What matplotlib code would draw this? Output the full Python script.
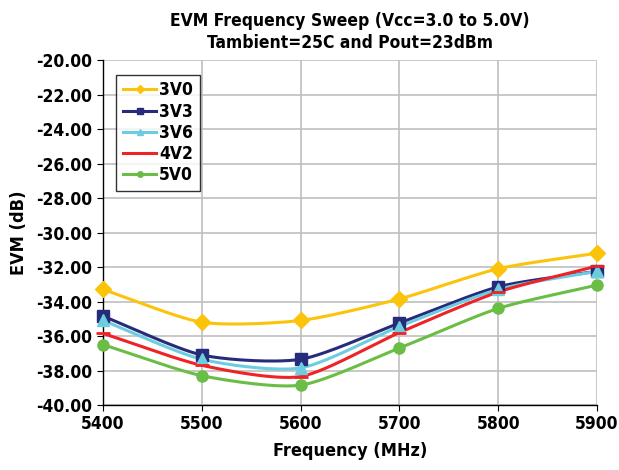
import numpy as np
import matplotlib.pyplot as plt

plt.rcParams['font.family'] = ['DejaVu Sans']
plt.rcParams['font.stretch'] = 'condensed'
plt.rcParams['font.weight'] = 'bold'

# data
freq = [5400, 5500, 5600, 5700, 5800, 5900]
evm_3v0 = [-33.3, -35.2, -35.1, -33.85, -32.1, -31.2]
evm_3v3 = [-34.85, -37.1, -37.35, -35.25, -33.15, -32.25]
evm_3v6 = [-35.1, -37.35, -37.85, -35.45, -33.3, -32.25]
evm_4v2 = [-35.85, -37.7, -38.35, -35.8, -33.45, -31.95]
evm_5v0 = [-36.5, -38.3, -38.85, -36.7, -34.4, -33.05]

labels = ['3V0', '3V3', '3V6', '4V2', '5V0']
colors = ['#FCC30B', '#262C7A', '#6DCDE0', '#EE2326', '#6ABD45']
markers = ['D', 's', '^', '_', 'o']
msizes = [8, 8, 8, 10, 8]


def smooth(x, y, n=30, k=0.12):
    # Excel-style smoothed line (bezier segments through the points)
    x = np.asarray(x, float)
    y = np.asarray(y, float)
    px = np.concatenate([[2 * x[0] - x[1]], x, [2 * x[-1] - x[-2]]])
    py = np.concatenate([[2 * y[0] - y[1]], y, [2 * y[-1] - y[-2]]])
    xs, ys = [], []
    t = np.linspace(0, 1, n)
    for i in range(1, len(px) - 2):
        p0 = np.array([px[i], py[i]])
        p3 = np.array([px[i + 1], py[i + 1]])
        p1 = p0 + (np.array([px[i + 1], py[i + 1]]) - np.array([px[i - 1], py[i - 1]])) * k
        p2 = p3 - (np.array([px[i + 2], py[i + 2]]) - np.array([px[i], py[i]])) * k
        b = ((1 - t) ** 3)[:, None] * p0 + (3 * (1 - t) ** 2 * t)[:, None] * p1 \
            + (3 * (1 - t) * t ** 2)[:, None] * p2 + (t ** 3)[:, None] * p3
        xs.extend(b[:, 0])
        ys.extend(b[:, 1])
    return xs, ys


fig = plt.figure(figsize=(6.19, 4.70), dpi=100)
ax = fig.add_axes([0.1664, 0.1383, 0.7981, 0.734])

series = [evm_3v0, evm_3v3, evm_3v6, evm_4v2, evm_5v0]
for vals, lab, c, m, ms in zip(series, labels, colors, markers, msizes):
    sx, sy = smooth(freq, vals)
    ax.plot(sx, sy, color=c, lw=2.2, zorder=3)
    ax.plot(freq, vals, linestyle='none', marker=m, color=c, ms=ms,
            mew=2 if m == '_' else 1, zorder=4, clip_on=False)
    # legend proxy
    ax.plot([], [], color=c, lw=2.2, marker=m, ms=4, label=lab)

ax.set_xlim(5400, 5900)
ax.set_ylim(-40, -20)
ax.set_xticks(freq)
ax.set_yticks(np.arange(-40, -19, 2))
ax.yaxis.set_major_formatter(plt.FuncFormatter(lambda v, p: f'{v:.2f}'))
ax.grid(True, color='#BFBFBF', lw=1.2)
ax.set_axisbelow(True)
for s in ['top', 'right']:
    ax.spines[s].set_visible(False)
for s in ['left', 'bottom']:
    ax.spines[s].set_color('black')
    ax.spines[s].set_linewidth(1)
ax.tick_params(labelsize=12.5, length=4)

ax.set_xlabel('Frequency (MHz)', fontsize=13, fontweight='bold', labelpad=6)
ax.set_ylabel('EVM (dB)', fontsize=13, fontweight='bold', labelpad=6)
ax.set_title('EVM Frequency Sweep (Vcc=3.0 to 5.0V)\nTambient=25C and Pout=23dBm',
             fontsize=12.5, fontweight='bold', pad=9, linespacing=1.25)

leg = ax.legend(loc='upper left', bbox_to_anchor=(0.027, 0.958), fontsize=12.5,
                frameon=True, fancybox=False, handlelength=1.9, handletextpad=0.15,
                labelspacing=0.18, borderpad=0.4, borderaxespad=0)
leg.get_frame().set_edgecolor('black')
leg.get_frame().set_linewidth(1)

plt.savefig('out.png')
